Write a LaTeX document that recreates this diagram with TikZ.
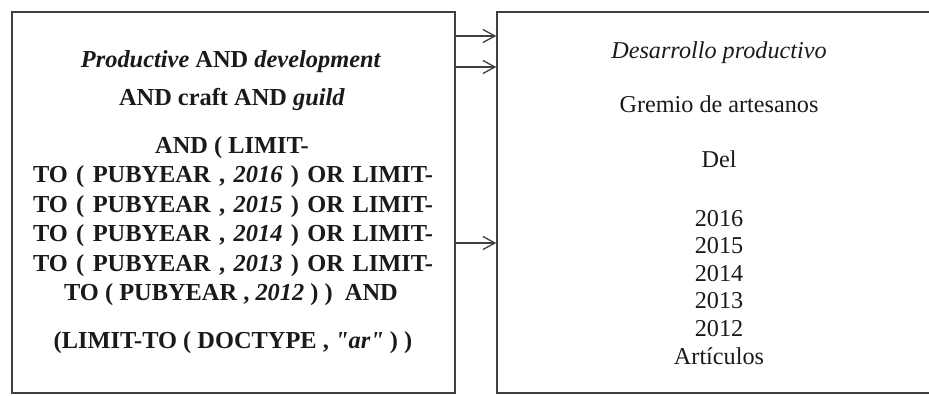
\documentclass[tikz,border=0pt]{standalone}
\usepackage{fontspec}
\setmainfont{Liberation Serif}
\newfontfamily\rawserif[Ligatures=ResetAll]{Liberation Serif}
\usetikzlibrary{arrows.meta}
\definecolor{boxgray}{HTML}{404040}
\definecolor{txt}{HTML}{1A1A1A}
\begin{document}
\begin{tikzpicture}[x=1pt,y=-1pt,
  box/.style={draw=boxgray, line width=1.4pt, inner sep=0pt},
  ltxt/.style={anchor=base, text=txt, font=\fontsize{24.4}{28}\selectfont\bfseries, inner sep=0pt},
  rtxt/.style={anchor=base, text=txt, font=\fontsize{24.2}{28}\selectfont, inner sep=0pt},
  link/.style={draw=boxgray, line width=1.3pt, -{Straight Barb[length=12pt,width=13pt,line width=1.3pt]}}]
\useasboundingbox (0,0) rectangle (929,396);
\fill[white] (0,0) rectangle (929,396);
\node[box, minimum width=443pt, minimum height=381pt] (L) at (233.5,202.5) {};
\node[box, minimum width=444pt, minimum height=381pt] (R) at (719,202.5) {};
% left text
\node[ltxt] (l1) at (231,68) {\textit{Productive} AND \textit{development}};
\node[ltxt] (l2) at (232,105) {AND craft AND \textit{guild}};
\node[ltxt] (l3) at (232,153) {AND ( LIMIT-};
\node[ltxt] (l4) at (233,182.5) {\makebox[400pt][s]{TO ( PUBYEAR , \textit{2016} ) OR LIMIT-}};
\node[ltxt] (l5) at (233,212) {\makebox[400pt][s]{TO ( PUBYEAR , \textit{2015} ) OR LIMIT-}};
\node[ltxt] (l6) at (233,241.5) {\makebox[400pt][s]{TO ( PUBYEAR , \textit{2014} ) OR LIMIT-}};
\node[ltxt] (l7) at (233,271) {\makebox[400pt][s]{TO ( PUBYEAR , \textit{2013} ) OR LIMIT-}};
\node[ltxt] (l8) at (231,300.5) {TO ( PUBYEAR , \textit{2012} ) )~ AND};
\node[ltxt] (l9) at (233,348) {(LIMIT-TO ( DOCTYPE , {\rawserif\bfseries\itshape "ar"} ) )};
% right text
\node[rtxt] (r1) at (719,59) {\textit{Desarrollo productivo}};
\node[rtxt] (r2) at (719,112) {Gremio de artesanos};
\node[rtxt] (r3) at (719,167) {Del};
\node[rtxt] (r4) at (719,226) {2016};
\node[rtxt] (r5) at (719,253.5) {2015};
\node[rtxt] (r6) at (719,281) {2014};
\node[rtxt] (r7) at (719,308.5) {2013};
\node[rtxt] (r8) at (719,336) {2012};
\node[rtxt] (r9) at (719,364) {Artículos};
% arrows
\coordinate (y1) at (0,36);
\coordinate (y2) at (0,67);
\coordinate (y3) at (0,243);
\draw[link] (L.east |- y1) -- (R.west |- y1);
\draw[link] (L.east |- y2) -- (R.west |- y2);
\draw[link] (L.east |- y3) -- (R.west |- y3);
\end{tikzpicture}
\end{document}
